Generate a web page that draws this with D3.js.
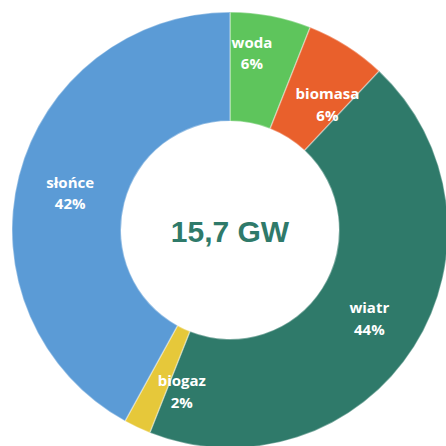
<!DOCTYPE html>
<html>
<head>
<meta charset="utf-8">
<script src="https://cdn.jsdelivr.net/npm/d3@7"></script>
<style>
  html, body { margin: 0; padding: 0; background: #fff; }
  svg { display: block; }
</style>
</head>
<body>
<svg width="446" height="446"></svg>
<script>
// udział źródeł w mocy zainstalowanej
var categories = ["woda", "biomasa", "wiatr", "biogaz", "słońce"];
var shares = [6, 6, 44, 2, 42];
var colors = ["#5ec55c", "#e9602c", "#2f7a6a", "#e6c83a", "#5b9bd6"];
var centerLabel = "15,7 GW";

var data = categories.map(function(c, i) { return { name: c, value: shares[i], color: colors[i] }; });

var svg = d3.select("svg"),
    cx = 230, cy = 230,
    outerR = 218, innerR = 109,
    g = svg.append("g").attr("transform", "translate(" + cx + "," + cy + ")");

var pie = d3.pie()
    .sort(null)
    .value(function(d) { return d.value; });

var arc = d3.arc()
    .innerRadius(innerR)
    .outerRadius(outerR);

var labelArc = d3.arc()
    .innerRadius(165)
    .outerRadius(165);

// small label nudges so narrow slices' labels sit like in the original layout
var nudge = { "woda": [-9, -15], "biomasa": [9, 14], "biogaz": [22, 12], "słońce": [0, 4] };

var arcs = pie(data);

g.selectAll(".slice")
    .data(arcs)
    .enter().append("path")
    .attr("class", "slice")
    .attr("d", arc)
    .style("fill", function(d) { return d.data.color; })
    .style("stroke", "rgba(255,255,255,0.35)")
    .style("stroke-width", 1.5);

var label = g.selectAll(".label")
    .data(arcs)
    .enter().append("text")
    .attr("class", "label")
    .attr("transform", function(d) {
        var c = labelArc.centroid(d), n = nudge[d.data.name] || [0, 0];
        return "translate(" + (c[0] + n[0]) + "," + (c[1] + n[1]) + ")";
    })
    .style("text-anchor", "middle")
    .style("font-family", "'Open Sans', sans-serif")
    .style("font-weight", "bold")
    .style("font-size", "15px")
    .style("fill", "#fff");

label.append("tspan")
    .attr("x", 0)
    .attr("dy", "-0.35em")
    .text(function(d) { return d.data.name; });

label.append("tspan")
    .attr("x", 0)
    .attr("dy", "1.45em")
    .text(function(d) { return d.data.value + "%"; });

g.append("text")
    .attr("y", 12)
    .style("text-anchor", "middle")
    .style("font-family", "'Liberation Sans', Arial, sans-serif")
    .style("font-weight", "bold")
    .style("font-size", "30px")
    .style("fill", "#2f7a6a")
    .text(centerLabel);
</script>
</body>
</html>
